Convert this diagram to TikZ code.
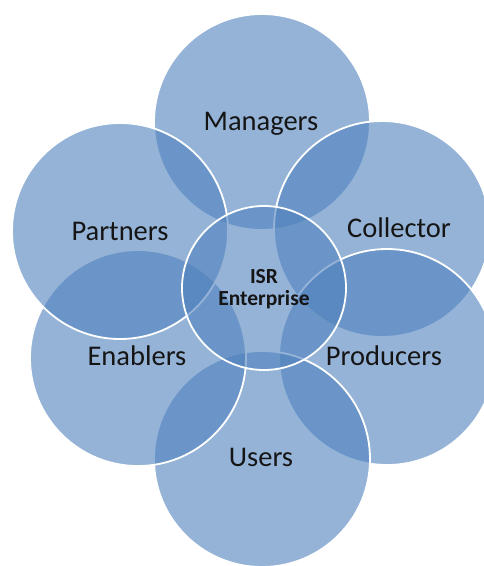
\documentclass[tikz,border=0pt]{standalone}
\usepackage{fontspec}
\setmainfont{Carlito}
\definecolor{vblue}{HTML}{4F81BD}
\definecolor{txt}{HTML}{151515}
\begin{document}
\begin{tikzpicture}[x=1pt,y=-1pt,
  venn/.style={circle, draw=white, line width=1.8pt, fill=vblue, fill opacity=0.6,
    inner sep=0pt, minimum size=#1},
  lbl/.style={font=\fontsize{28.5}{30}\selectfont, text=txt, inner sep=0pt, anchor=base},
  core/.style={font=\bfseries\fontsize{21.5}{22}\selectfont, text=txt, inner sep=0pt, align=center}]
\useasboundingbox (0,0) rectangle (484,566);
% circles, drawn in layering order
\node[venn=216pt] (cman)  at (262,122) {};
\node[venn=216pt] (ccol)  at (382,229) {};
\node[venn=216pt] (cprod) at (387,357) {};
\node[venn=216pt] (cuser) at (262,459) {};
\node[venn=216pt] (cena)  at (138,358) {};
\node[venn=216pt] (cpart) at (120,231) {};
\node[venn=164pt] (cisr)  at (264,288) {};
% labels
\node[lbl] (tman)  at (261,130) {Managers};
\node[lbl] (tcol)  at (399,237) {Collector};
\node[lbl] (tprod) at (384,365) {Producers};
\node[lbl] (tuser) at (261,466) {Users};
\node[lbl] (tena)  at (137,365) {Enablers};
\node[lbl] (tpart) at (120,240) {Partners};
\node[core] (tisr) at (264,289.5) {ISR\\Enterprise};
\end{tikzpicture}
\end{document}
